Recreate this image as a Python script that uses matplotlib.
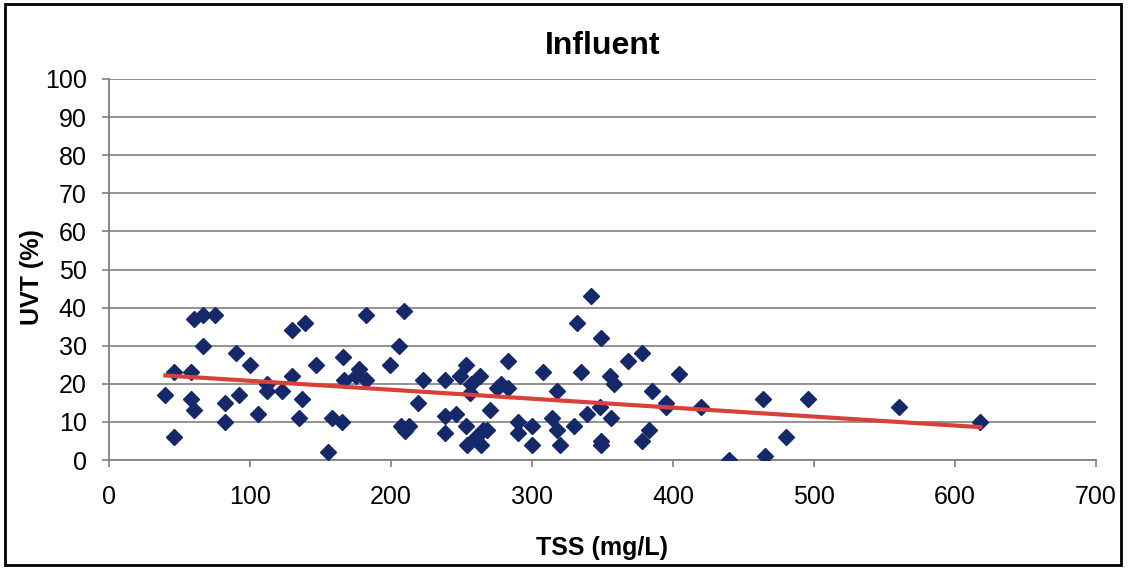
import matplotlib.pyplot as plt
import numpy as np

plt.rcParams['font.family'] = ['Liberation Sans', 'DejaVu Sans']

# TSS (mg/L) and UVT (%)
tss = [40, 46, 46, 58, 58, 60, 60, 67, 67, 75, 82, 82, 90, 92, 100, 106,
       112, 112, 123, 130, 130, 135, 137, 139, 147, 155, 158, 165, 166, 167,
       175, 177, 182, 182, 199, 206, 209, 207, 210, 213, 219, 223, 238, 238,
       238, 246, 249, 253, 253, 254, 256, 257, 263, 260, 264, 265, 268, 270,
       275, 278, 283, 283, 290, 290, 300, 300, 308, 314, 318, 318, 320, 330,
       332, 335, 339, 342, 348, 349, 349, 349, 355, 358, 356, 368, 378, 378,
       383, 385, 395, 395, 404, 420, 440, 464, 465, 480, 496, 560, 618]
uvt = [17, 23, 6, 23, 16, 13, 37, 38, 30, 38, 15, 10, 28, 17, 25, 12,
       20, 18, 18, 34, 22, 11, 16, 36, 25, 2, 11, 10, 27, 21,
       22, 24, 21, 38, 25, 30, 39, 9, 7.5, 9, 15, 21, 21, 11.5,
       7, 12, 22, 25, 9, 4, 17.5, 20, 22, 6, 4, 8, 8, 13,
       19, 20, 19, 26, 10, 7, 9, 4, 23, 11, 18, 8, 4, 9,
       36, 23, 12, 43, 14, 32, 5, 4, 22, 20, 11, 26, 28, 5,
       8, 18, 15, 14, 22.5, 14, 0, 16, 1, 6, 16, 14, 10]

x_ticks = np.arange(0, 701, 100)
y_ticks = np.arange(0, 101, 10)

fig = plt.figure(figsize=(11.29, 5.69), dpi=100)
ax = fig.add_axes([109 / 1129, 1 - 460 / 569, 987 / 1129, 381 / 569])

ax.plot(tss, uvt, linestyle='none', marker='D', markersize=8,
        markerfacecolor='#14286a', markeredgecolor='#14286a', zorder=3)

# linear trend line
slope, inter = np.polyfit(tss, uvt, 1)
xs = np.array([min(tss), max(tss)])
ax.plot(xs, slope * xs + inter, color='#d8413a', linewidth=3, zorder=4)

ax.set_xlim(0, 700)
ax.set_ylim(0, 100)
ax.set_xticks(x_ticks)
ax.set_yticks(y_ticks)
ax.tick_params(axis='both', labelsize=18, color='#808080', length=5, width=1.2)
ax.tick_params(axis='y', pad=11)
ax.tick_params(axis='x', pad=13)
ax.grid(axis='y', color='#8a8a8a', linewidth=1.3)
ax.set_axisbelow(True)
for s in ['top', 'right']:
    ax.spines[s].set_visible(False)
for s in ['left', 'bottom']:
    ax.spines[s].set_color('#808080')
    ax.spines[s].set_linewidth(1.3)

ax.set_title('Influent', fontsize=23, fontweight='bold', pad=18)
ax.set_xlabel('TSS (mg/L)', fontsize=18, fontweight='bold', va='center')
ax.xaxis.set_label_coords(0.5, (460 - 548) / 381)
ax.set_ylabel('UVT (%)', fontsize=18, fontweight='bold', va='center')
ax.yaxis.set_label_coords((32 - 109) / 987, (460 - 277) / 381)

# outer chart border
fig.patches.append(plt.Rectangle((5 / 1129, 4 / 569), 1116 / 1129, 561 / 569,
                                 transform=fig.transFigure, fill=False,
                                 edgecolor='black', linewidth=2))

fig.savefig('out.png', dpi=100)
